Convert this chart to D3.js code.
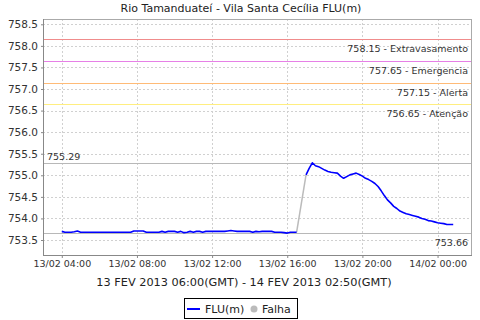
<!DOCTYPE html>
<html><head><meta charset="utf-8">
<script src="https://cdn.jsdelivr.net/npm/d3@7"></script>
<style>body{margin:0;background:#fff}svg{display:block}</style>
</head><body>
<svg id="c" width="480" height="320"></svg>
<script>
const title = "Rio Tamanduateí - Vila Santa Cecília FLU(m)";
const subtitle = "13 FEV 2013 06:00(GMT) - 14 FEV 2013 02:50(GMT)";
const startTime = "2013-02-13T04:00";
const stepMinutes = 10;
// FLU(m) values every 10 minutes from 13/02 04:00 to 14/02 00:50 (null = falha)
const fluValues = [
  753.70,753.68,753.68,753.68,753.69,753.71,753.68,753.68,753.68,753.68,
  753.68,753.68,753.68,753.68,753.68,753.68,753.68,753.68,753.68,753.68,
  753.68,753.68,753.68,753.71,753.71,753.71,753.71,753.68,753.68,753.68,
  753.68,753.68,753.70,753.68,753.70,753.70,753.70,753.68,753.70,753.67,
  753.68,753.70,753.68,753.70,753.70,753.68,753.70,753.70,753.70,753.70,
  753.70,753.70,753.70,753.71,753.72,753.71,753.70,753.70,753.70,753.70,
  753.70,753.68,753.70,753.69,753.70,753.70,753.70,753.70,753.68,753.68,
  753.68,753.67,753.66,753.68,753.68,753.68,null,null,
  755.01,755.16,755.29,755.22,755.20,755.16,755.12,755.09,755.07,755.06,
  755.05,754.98,754.93,754.97,755.01,755.03,755.05,755.02,754.98,754.93,
  754.90,754.86,754.81,754.74,754.64,754.53,754.43,754.36,754.28,754.23,
  754.17,754.14,754.11,754.09,754.07,754.05,754.03,754.00,753.98,753.95,
  753.94,753.92,753.90,753.89,753.88,753.86,753.86,753.86
];
const thresholds = [758.15, 757.65, 757.15, 756.65];
const thresholdNames = ["Extravasamento", "Emergencia", "Alerta", "Atenção"];
const thresholdColors = ["#f08c8c", "#e680e6", "#ffbb77", "#ffee80"];
const yTicks = [753.5,754.0,754.5,755.0,755.5,756.0,756.5,757.0,757.5,758.0,758.5];
const xTickTimes = ["2013-02-13T04:00","2013-02-13T08:00","2013-02-13T12:00","2013-02-13T16:00","2013-02-13T20:00","2013-02-14T00:00"];
const legendLabels = ["FLU(m)", "Falha"];

const parse = d3.timeParse("%Y-%m-%dT%H:%M");
const t0 = parse(startTime);
const data = fluValues.map((v, i) => ({t: new Date(t0.getTime() + i*stepMinutes*60000), v}));
const valid = data.filter(d => d.v != null);
const maxV = d3.max(valid, d => d.v), minV = d3.min(valid, d => d.v);

const L = 43, R = 472, T = 19, B = 255;
const svg = d3.select("#c");
const font = "'DejaVu Sans', sans-serif";

const x = d3.scaleTime()
  .domain([parse("2013-02-13T03:00"), parse("2013-02-14T01:50")])
  .range([L, R]);
const y = d3.scaleLinear().domain([753.5 - 15/43.14, 753.5 + 221/43.14]).range([B, T]);

svg.append("rect").attr("x", L).attr("y", T).attr("width", R-L).attr("height", B-T).attr("fill", "#fff");

// grid
const g = svg.append("g").attr("shape-rendering", "crispEdges");
g.selectAll("line.hg").data(yTicks).join("line").attr("class", "hg")
  .attr("x1", L).attr("x2", R).attr("y1", d => Math.round(y(d))+0.5).attr("y2", d => Math.round(y(d))+0.5)
  .attr("stroke", "#d0d0d0").attr("stroke-dasharray", "2,2").attr("stroke-width", 1);
g.selectAll("line.vg").data(xTickTimes.map(parse)).join("line").attr("class", "vg")
  .attr("y1", T).attr("y2", B).attr("x1", d => Math.round(x(d))+0.5).attr("x2", d => Math.round(x(d))+0.5)
  .attr("stroke", "#d0d0d0").attr("stroke-dasharray", "2,2").attr("stroke-width", 1);

// threshold lines (1px rects)
const thg = svg.append("g");
thg.selectAll("rect.th").data(thresholds).join("rect").attr("class", "th")
  .attr("x", L + 1).attr("width", R - L - 1)
  .attr("y", d => Math.round(y(d))).attr("height", 1)
  .style("fill", (d, i) => thresholdColors[i]);
thg.selectAll("text.th").data(thresholds).join("text").attr("class", "th")
  .attr("x", 468).attr("y", d => Math.round(y(d)) + 12.5).attr("text-anchor", "end")
  .attr("font-family", font).attr("font-size", 9.5).attr("fill", "#333")
  .text((d, i) => d.toFixed(2) + " - " + thresholdNames[i]);

// max / min lines
const yMax = Math.round(y(maxV)), yMin = Math.round(y(minV));
svg.append("rect").attr("x", L+1).attr("width", R-L-1).attr("y", yMax).attr("height", 1).style("fill", "#b8b8b8");
svg.append("rect").attr("x", L+1).attr("width", R-L-1).attr("y", yMin).attr("height", 1).style("fill", "#b8b8b8");
svg.append("text").attr("x", 47).attr("y", yMax - 3.5).attr("font-family", font).attr("font-size", 9.5)
  .attr("fill", "#333").text(maxV.toFixed(2));
svg.append("text").attr("x", 468).attr("y", yMin + 12.5).attr("text-anchor", "end").attr("font-family", font)
  .attr("font-size", 9.5).attr("fill", "#333").text(minV.toFixed(2));

// falha (gray) segments joining across gaps
const gaps = [];
for (let i = 1; i < data.length; i++) {
  if (data[i].v == null && data[i-1].v != null) {
    let j = i; while (j < data.length && data[j].v == null) j++;
    if (j < data.length) gaps.push([data[i-1], data[j]]);
  }
}
const line = d3.line().defined(d => d.v != null).x(d => x(d.t)).y(d => y(d.v));
svg.selectAll("path.gap").data(gaps).join("path").attr("class", "gap")
  .attr("d", d => d3.line().x(p => x(p.t)).y(p => y(p.v))(d))
  .attr("stroke", "#bbbbbb").attr("stroke-width", 1.5).attr("fill", "none");
svg.append("path").datum(data).attr("d", line)
  .attr("stroke", "#0000ff").attr("stroke-width", 1.6).attr("fill", "none").attr("stroke-linejoin", "round");

// plot border
svg.append("rect").attr("x", L+0.5).attr("y", T+0.5).attr("width", R-L-1).attr("height", B-T).attr("fill", "none")
  .attr("stroke", "#aaaaaa").attr("shape-rendering", "crispEdges");
svg.append("line").attr("x1", L+0.5).attr("x2", L+0.5).attr("y1", T).attr("y2", B+0.5).attr("stroke", "#888");
svg.append("line").attr("x1", L).attr("x2", R).attr("y1", B+0.5).attr("y2", B+0.5).attr("stroke", "#888");

// axes
const ya = svg.append("g").attr("transform", `translate(${L},0)`)
  .call(d3.axisLeft(y).tickValues(yTicks).tickFormat(d3.format(".1f")).tickSize(2).tickPadding(3));
const xa = svg.append("g").attr("transform", `translate(0,${B})`)
  .call(d3.axisBottom(x).tickValues(xTickTimes.map(parse)).tickFormat(d3.timeFormat("%d/%m %H:%M")).tickSize(3).tickPadding(2));
[ya, xa].forEach(a => {
  a.select(".domain").remove();
  a.selectAll("line").attr("stroke", "#888");
  a.selectAll("text").attr("font-family", font).attr("fill", "#333");
});
ya.selectAll("text").attr("font-size", 10.5);
xa.selectAll("text").attr("font-size", 9.5);

// titles
svg.append("text").attr("x", 241).attr("y", 12).attr("text-anchor", "middle").attr("font-family", font)
  .attr("font-size", 11).attr("fill", "#222").text(title);
svg.append("text").attr("x", 244).attr("y", 286).attr("text-anchor", "middle").attr("font-family", font)
  .attr("font-size", 11.3).attr("fill", "#222").text(subtitle);

// legend
const lg = svg.append("g");
lg.append("rect").attr("x", 184.5).attr("y", 298.5).attr("width", 113).attr("height", 20)
  .attr("fill", "#fff").attr("stroke", "#000");
lg.append("line").attr("x1", 187).attr("x2", 200).attr("y1", 309).attr("y2", 309).attr("stroke", "#0000ff").attr("stroke-width", 2);
lg.append("text").attr("x", 205).attr("y", 313).attr("font-family", font).attr("font-size", 11).attr("fill", "#222").text(legendLabels[0]);
lg.append("circle").attr("cx", 254).attr("cy", 309).attr("r", 3.5).attr("fill", "#bbbbbb");
lg.append("text").attr("x", 262).attr("y", 313).attr("font-family", font).attr("font-size", 11).attr("fill", "#222").text(legendLabels[1]);
</script>
</body></html>
